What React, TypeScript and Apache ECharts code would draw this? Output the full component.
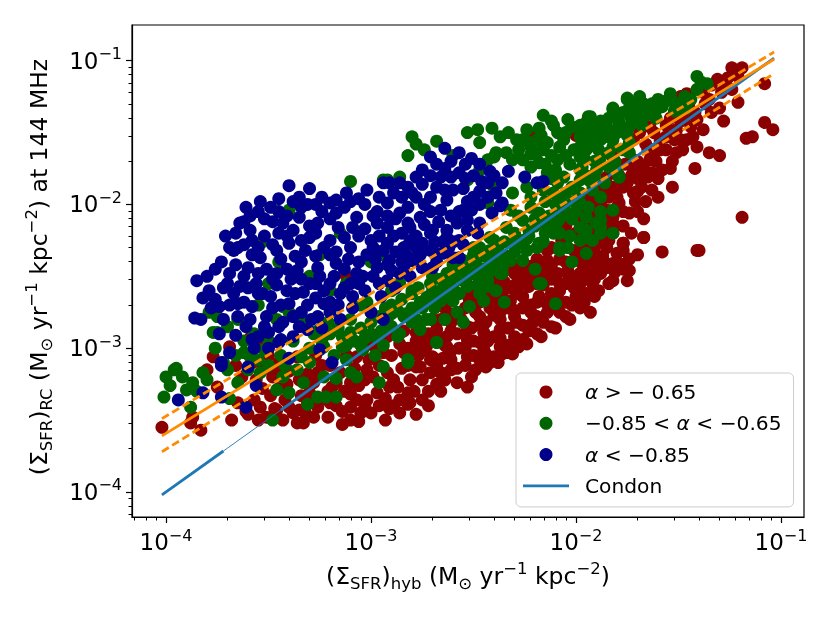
import React, { useEffect, useRef } from "react";
import * as echarts from "echarts";

// log10 values of [ (Σ_SFR)_hyb , (Σ_SFR)_RC ]
const redLog: [number, number][] = [
  [-4.02,-3.55],[-3.87,-3.48],[-3.83,-3.57],[-3.88,-3.52],[-3.77,-3.06],[-3.80,-3.15],[-3.75,-3.27],[-3.69,-2.99],
  [-3.68,-3.50],[-3.60,-3.46],[-3.54,-3.41],[-3.51,-3.48],[-3.46,-3.43],[-3.58,-2.92],[-3.53,-2.96],[-3.46,-3.13],
  [-3.40,-3.41],[-3.36,-3.52],[-3.33,-3.52],[-3.35,-3.43],[-3.26,-3.41],[-3.20,-3.38],[-3.14,-3.53],[-3.06,-3.51],
  [-3.10,-3.41],[-3.02,-3.36],[-2.97,-3.31],[-2.91,-3.42],[-2.86,-3.36],[-2.82,-3.39],[-2.91,-3.27],[-2.81,-3.22],
  [-2.71,-3.17],[-2.66,-3.17],[-2.64,-3.22],[-2.78,-3.13],[-2.94,-3.03],[-3.02,-3.15],[-3.10,-3.24],[-3.19,-3.27],
  [-3.30,-3.31],[-3.35,-3.22],[-3.26,-3.17],[-3.07,-3.06],[-2.97,-2.94],[-2.84,-3.03],[-2.73,-2.99],[-2.68,-2.87],
  [-2.78,-2.89],[-2.63,-2.80],[-3.59,-2.93],
  [-2.81,-3.38],[-2.82,-3.31],[-2.53,-3.27],[-2.64,-3.22],[-2.66,-3.17],[-2.49,-3.15],[-2.42,-3.10],[-2.34,-3.03],
  [-2.28,-2.99],[-2.37,-2.99],[-2.45,-3.01],[-2.53,-3.06],[-2.61,-3.08],[-2.76,-3.13],[-2.80,-3.01],[-2.73,-2.94],
  [-2.63,-2.92],[-2.53,-2.94],[-2.45,-2.89],[-2.37,-2.87],[-2.29,-2.82],[-2.21,-2.82],[-2.22,-2.75],[-2.14,-2.75],
  [-2.08,-2.75],[-2.31,-2.73],[-2.37,-2.75],[-2.53,-2.85],[-2.61,-2.82],[-2.47,-2.78],[-2.52,-2.67],[-2.43,-2.64],
  [-2.32,-2.67],[-2.26,-2.64],[-2.18,-2.64],[-2.09,-2.62],[-2.00,-2.64],[-1.93,-2.75],[-2.08,-2.55],[-1.98,-2.55],
  [-1.92,-2.55],[-2.29,-2.55],[-2.21,-2.50],[-2.14,-2.48],[-2.04,-2.46],[-1.95,-2.46],[-1.85,-2.44],[-1.79,-2.41],
  [-1.75,-2.53],[-1.82,-2.53],[-1.74,-2.46],[-2.14,-2.39],[-2.01,-2.39],[-1.92,-2.39],[-2.37,-2.44],[-1.77,-2.27],
  [-1.85,-2.30],[-1.82,-2.20],[-1.85,-2.09],[-1.80,-2.02],[-1.71,-1.98],[-1.67,-2.23],[-1.58,-2.33],[-1.41,-2.32],
  [-1.93,-1.96],[-2.63,-2.99],[-2.70,-3.06],
  [-1.19,-2.09],[-1.08,-1.43],[-1.04,-1.48],[-1.17,-1.54],[-1.14,-1.53],[-1.08,-1.16],[-1.19,-1.05],[-1.21,-1.11],
  [-1.26,-1.12],[-1.31,-1.13],[-1.34,-1.17],[-1.21,-1.29],[-1.30,-1.33],[-1.34,-1.36],[-1.41,-1.41],[-1.46,-1.23],
  [-1.44,-1.46],[-1.41,-1.60],[-1.35,-1.64],[-1.30,-1.66],[-1.48,-1.62],[-1.51,-1.64],[-1.42,-1.75],[-1.53,-1.88],
  [-1.54,-1.75],[-1.58,-1.76],[-1.60,-1.82],[-1.65,-1.81],[-1.59,-1.62],[-1.56,-1.53],[-1.51,-1.48],[-1.43,-1.53],
  [-1.62,-1.50],[-1.65,-1.62],[-1.64,-1.69],[-1.72,-1.69],[-1.72,-1.76],[-1.75,-1.85],[-1.70,-1.91],[-1.71,-1.98],
  [-1.79,-1.99],[-1.82,-2.09],[-1.85,-2.04],[-1.83,-2.18],[-1.77,-2.27],[-1.67,-2.23],[-1.40,-2.32],[-1.85,-1.88],
  [-1.88,-1.95],[-1.92,-1.98],[-1.95,-1.97],[-1.49,-1.25],[-1.64,-1.46],[-1.69,-1.50],[-1.75,-1.62],[-1.82,-1.67],
  [-1.85,-1.81],[-1.80,-1.88],[-1.92,-2.32],[-1.82,-2.41],[-1.90,-2.41],
  [-2.22,-1.52],[-2.00,-1.52],[-1.95,-1.50],[-1.72,-1.55],[-1.82,-1.88],[-1.72,-1.92],[-1.88,-1.99],[-1.83,-2.09],
  [-1.88,-2.20],[-1.97,-2.41],[-2.04,-2.48],[-2.18,-2.48],[-2.26,-2.50],[-2.31,-2.57],[-2.39,-2.50],[-2.43,-2.62],
  [-2.52,-2.57],[-1.92,-2.09],[-3.12,-2.50],
];

const redLogDense: [number, number][] = [
  [-3.65,-3.38],[-3.63,-3.20],[-3.66,-3.12],[-3.57,-3.36],[-3.56,-3.22],[-3.58,-3.10],[-3.55,-3.50],[-3.49,-3.33],
  [-3.48,-3.20],[-3.50,-3.05],[-3.47,-3.42],[-3.42,-3.36],[-3.41,-3.25],[-3.43,-3.50],[-3.40,-3.16],[-3.34,-3.33],
  [-3.36,-3.06],[-3.32,-3.45],[-3.28,-3.48],[-3.28,-3.24],[-3.27,-3.05],[-3.21,-3.48],[-3.21,-3.30],[-3.20,-3.12],
  [-3.14,-3.44],[-3.13,-3.30],[-3.15,-3.17],[-3.12,-3.05],[-3.07,-3.36],[-3.06,-3.26],[-3.08,-3.14],[-3.05,-3.45],
  [-3.00,-3.45],[-2.99,-3.20],[-3.01,-3.08],[-2.99,-2.98],[-2.93,-3.50],[-2.93,-3.35],[-2.92,-3.17],[-2.90,-3.05],
  [-2.92,-2.92],[-2.86,-3.45],[-2.87,-3.27],[-2.85,-3.14],[-2.86,-2.97],[-2.84,-2.88],[-2.78,-3.46],[-2.79,-3.30],
  [-2.77,-3.05],[-2.78,-2.95],[-2.72,-3.40],[-2.72,-3.30],[-2.71,-3.08],[-2.72,-2.90],[-2.70,-2.80],[-2.66,-3.30],
  [-2.65,-3.07],[-2.64,-2.98],[-2.66,-2.80],[-2.64,-2.72],[-2.58,-3.24],[-2.58,-3.14],[-2.57,-3.00],[-2.58,-2.90],
  [-2.56,-2.80],[-2.58,-2.62],[-2.51,-3.20],[-2.50,-3.05],[-2.50,-2.95],[-2.51,-2.86],[-2.49,-2.75],[-2.50,-2.60],
  [-2.44,-3.13],[-2.44,-3.04],[-2.43,-2.95],[-2.44,-2.82],[-2.42,-2.72],[-2.45,-2.55],[-2.38,-3.10],[-2.36,-3.04],
  [-2.37,-2.93],[-2.37,-2.80],[-2.36,-2.64],[-2.35,-2.54],[-2.31,-3.04],[-2.30,-2.92],[-2.30,-2.78],[-2.29,-2.62],
  [-2.30,-2.48],[-2.28,-2.42],[-2.24,-2.97],[-2.23,-2.88],[-2.22,-2.70],[-2.23,-2.57],[-2.22,-2.43],[-2.17,-2.92],
  [-2.16,-2.82],[-2.15,-2.68],[-2.16,-2.56],[-2.15,-2.42],[-2.14,-2.32],[-2.10,-2.86],[-2.09,-2.70],[-2.08,-2.60],
  [-2.09,-2.48],[-2.08,-2.38],[-2.07,-2.25],[-2.03,-2.80],[-2.02,-2.70],[-2.01,-2.58],[-2.02,-2.50],[-2.01,-2.32],
  [-2.00,-2.20],[-2.02,-2.10],[-1.96,-2.68],[-1.95,-2.62],[-1.94,-2.50],[-1.95,-2.28],[-1.94,-2.12],[-1.96,-2.02],
  [-1.89,-2.60],[-1.88,-2.48],[-1.87,-2.36],[-1.88,-2.26],[-1.87,-2.05],[-1.88,-1.88],[-1.81,-2.47],[-1.80,-2.34],
  [-1.81,-2.15],[-1.80,-1.95],[-1.79,-1.80],[-1.74,-2.38],[-1.73,-2.20],[-1.74,-2.06],[-1.73,-1.80],[-1.76,-1.72],
  [-1.67,-2.10],[-1.66,-1.98],[-1.68,-1.88],[-1.67,-1.75],[-1.66,-1.58],[-1.60,-1.95],[-1.61,-1.70],[-1.59,-1.55],
  [-1.53,-1.70],[-1.52,-1.55],[-1.54,-1.40],[-1.46,-1.55],[-1.46,-1.38],[-1.45,-1.30],[-1.38,-1.48],[-1.37,-1.30],
  [-1.38,-1.22],[-1.29,-1.22],[-1.28,-1.42],[-1.24,-1.20],[-1.24,-1.05],
];

const redLogGaps: [number, number][] = [
  [-2.89,-3.22],[-2.89,-3.40],[-2.82,-3.12],[-2.82,-3.00],[-2.75,-3.22],[-2.75,-3.36],[-2.75,-3.02],[-2.68,-3.12],
  [-2.68,-3.25],[-2.68,-2.92],[-2.61,-3.15],[-2.61,-3.02],[-2.61,-2.88],[-2.61,-2.76],[-2.54,-3.12],[-2.54,-2.99],
  [-2.54,-2.90],[-2.54,-2.72],[-2.54,-2.62],[-2.47,-3.08],[-2.47,-2.96],[-2.47,-2.84],[-2.47,-2.68],[-2.47,-2.52],
  [-2.40,-3.06],[-2.40,-2.92],[-2.40,-2.77],[-2.40,-2.68],[-2.40,-2.58],[-2.33,-2.98],[-2.33,-2.86],[-2.33,-2.72],
  [-2.33,-2.58],[-2.33,-2.45],[-2.26,-2.94],[-2.26,-2.84],[-2.26,-2.72],[-2.26,-2.55],[-2.26,-2.45],[-2.19,-2.90],
  [-2.19,-2.78],[-2.19,-2.68],[-2.19,-2.55],[-2.19,-2.38],[-2.12,-2.85],[-2.12,-2.72],[-2.12,-2.62],[-2.12,-2.52],
  [-2.12,-2.42],[-2.12,-2.30],[-2.05,-2.78],[-2.05,-2.68],[-2.05,-2.55],[-2.05,-2.40],[-2.05,-2.28],[-2.05,-2.15],
  [-1.98,-2.72],[-1.98,-2.60],[-1.98,-2.48],[-1.98,-2.33],[-1.98,-2.20],[-1.98,-2.08],[-1.91,-2.64],[-1.91,-2.52],
  [-1.91,-2.44],[-1.91,-2.30],[-1.91,-2.18],[-1.91,-2.02],[-1.84,-2.55],[-1.84,-2.42],[-1.84,-2.25],[-1.84,-2.12],
  [-1.84,-1.95],[-1.77,-2.45],[-1.77,-2.32],[-1.77,-2.15],[-1.77,-2.05],[-1.77,-1.88],[-1.70,-2.35],[-1.70,-2.05],
  [-1.70,-1.82],[-1.70,-1.70],[-1.63,-1.90],[-1.63,-1.78],[-1.63,-1.62],[-1.56,-1.62],[-1.56,-1.45],[-1.49,-1.55],
  [-1.49,-1.42],[-1.42,-1.36],[-1.35,-1.27],[-1.28,-1.15],
  [-3.61,-3.44],[-3.53,-3.28],[-3.45,-3.28],[-3.38,-3.45],[-3.31,-3.38],[-3.24,-3.35],[-3.17,-3.40],[-3.17,-3.24],
  [-3.10,-3.50],[-3.10,-3.32],[-3.03,-3.40],[-3.03,-3.22],[-2.96,-3.40],[-2.96,-3.12],[-3.24,-3.12],[-3.31,-3.18],
  [-3.45,-3.10],[-3.53,-3.15],
];

const greenLog: [number, number][] = [
  [-4.00,-3.20],[-3.96,-3.15],[-4.01,-3.34],[-3.98,-3.26],[-3.90,-3.29],[-3.87,-3.24],[-3.88,-3.41],[-3.82,-3.17],
  [-3.75,-2.89],[-3.76,-3.00],[-3.70,-3.15],[-3.65,-3.24],[-3.62,-3.03],[-3.59,-3.06],[-3.69,-3.35],[-3.54,-3.17],
  [-3.52,-3.01],[-3.48,-3.50],[-3.46,-3.29],[-3.43,-3.20],[-3.40,-3.31],[-3.36,-3.15],[-3.33,-3.24],[-3.31,-3.39],
  [-3.26,-3.34],[-3.22,-3.34],[-3.17,-3.34],[-3.23,-3.20],[-3.30,-3.10],[-3.17,-3.21],[-3.10,-3.17],[-3.07,-3.20],
  [-3.04,-3.01],[-3.10,-2.89],[-2.94,-3.13],[-2.96,-3.24],[-2.87,-2.92],[-2.82,-3.08],[-2.73,-2.80],[-2.68,-2.96],
  [-2.80,-2.82],[-3.14,-2.99],[-3.23,-2.99],[-3.35,-2.78],[-3.43,-2.71],[-3.46,-2.80],[-3.75,-2.78],[-3.79,-2.75],
  [-3.10,-1.84],[-2.94,-1.83],[-3.40,-2.04],[-3.53,-2.26],[-3.77,-2.89],[-3.95,-3.14],[-3.50,-2.55],[-3.30,-2.50],
  [-3.20,-2.60],[-3.05,-2.70],[-3.40,-2.75],[-3.12,-2.55],[-3.00,-2.40],[-3.25,-2.35],[-3.45,-2.40],[-3.55,-2.70],
  [-3.65,-2.80],[-3.00,-2.90],[-2.90,-2.60],[-2.95,-2.35],[-3.15,-2.20],
  [-2.80,-1.53],[-2.82,-1.66],[-2.92,-1.83],[-2.86,-1.81],[-2.53,-1.50],[-2.48,-1.48],[-2.41,-1.47],[-2.37,-1.53],
  [-2.47,-1.57],[-2.60,-1.66],[-2.40,-1.67],[-2.34,-1.64],[-2.31,-1.69],[-2.47,-1.76],[-2.53,-1.83],[-2.40,-1.88],
  [-2.31,-1.92],[-2.43,-1.99],[-2.32,-2.04],
  [-2.16,-1.38],[-2.18,-1.47],[-2.11,-1.45],[-2.04,-1.41],[-1.94,-1.39],[-1.82,-1.33],[-1.75,-1.26],[-1.70,-1.30],
  [-1.79,-1.43],[-1.85,-1.48],[-1.92,-1.50],[-1.98,-1.53],[-2.06,-1.55],[-2.14,-1.57],[-2.22,-1.60],[-2.39,-1.64],
  [-2.43,-1.69],[-2.26,-1.69],[-2.18,-1.71],[-2.09,-1.69],[-1.98,-1.67],[-1.90,-1.60],[-1.82,-1.55],[-1.74,-1.46],
  [-1.90,-1.76],[-1.98,-1.83],[-2.06,-1.81],[-2.14,-1.78],[-2.22,-1.95],[-2.11,-1.92],[-1.79,-1.81],[-2.18,-2.06],
  [-2.08,-2.04],[-1.98,-1.99],[-2.26,-2.11],[-2.34,-2.16],[-2.42,-2.23],[-2.47,-2.30],[-2.55,-2.39],[-2.63,-2.48],
  [-2.71,-2.55],[-2.80,-2.62],[-2.11,-2.20],[-2.04,-2.30],[-1.98,-2.16],[-1.92,-2.25],[-2.19,-2.30],[-2.26,-2.39],
  [-2.36,-2.48],[-2.43,-2.57],[-2.50,-2.48],[-2.47,-2.62],[-2.39,-2.60],[-2.18,-2.55],[-2.08,-2.32],[-1.95,-2.34],
  [-1.88,-2.11],[-1.82,-2.04],[-1.88,-1.95],[-1.82,-2.20],
  [-1.95,-2.18],[-1.88,-2.16],[-1.98,-2.25],[-2.08,-2.30],[-2.18,-2.27],[-2.24,-2.32],[-2.32,-2.39],[-2.37,-2.48],
  [-2.43,-2.53],[-2.45,-2.67],[-2.52,-2.71],[-2.58,-2.75],[-2.60,-2.67],[-2.53,-2.57],[-2.48,-2.50],[-2.66,-2.67],
  [-2.71,-2.80],[-2.76,-2.87],[-2.68,-2.96],[-2.82,-3.10],[-2.17,-2.55],[-2.10,-2.69],
  [-1.41,-1.11],[-1.36,-1.16],[-1.54,-1.23],[-1.60,-1.27],[-1.69,-1.25],[-1.75,-1.27],[-1.82,-1.34],[-1.93,-1.39],
  [-1.72,-1.36],[-1.64,-1.34],[-1.58,-1.32],[-1.49,-1.30],[-1.44,-1.27],[-1.85,-1.46],[-1.79,-1.43],[-1.95,-1.50],
  [-1.88,-1.55],[-1.80,-1.50],[-1.74,-1.57],[-1.95,-1.62],[-1.88,-1.67],[-1.97,-1.74],[-1.79,-1.81],[-1.92,-1.90],
  [-1.95,-2.09],[-1.90,-2.13],[-1.95,-2.23],[-1.88,-2.20],[-1.41,-1.20],
  [-3.00,-2.75],[-2.90,-2.70],[-2.80,-2.60],[-2.70,-2.50],[-2.60,-2.42],[-2.50,-2.35],[-2.40,-2.25],[-2.30,-2.20],
  [-2.20,-2.10],[-2.10,-2.00],[-2.00,-1.90],[-2.90,-2.85],[-2.75,-2.72],[-2.60,-2.58],[-2.45,-2.45],[-2.30,-2.33],
  [-2.15,-2.20],[-2.00,-2.05],
];

const greenLogDense: [number, number][] = [
  [-2.78,-1.58],[-2.74,-1.62],[-2.68,-1.56],[-2.29,-1.55],[-2.28,-1.62],[-2.28,-2.08],[-2.27,-2.27],[-2.24,-1.48],
  [-2.23,-1.57],[-2.22,-1.65],[-2.22,-1.74],[-2.24,-1.88],[-2.22,-2.02],[-2.23,-2.18],[-2.17,-1.52],[-2.16,-1.62],
  [-2.15,-1.72],[-2.16,-1.90],[-2.15,-1.98],[-2.15,-2.13],[-2.16,-2.26],[-2.09,-1.50],[-2.08,-1.60],[-2.10,-1.76],
  [-2.09,-1.85],[-2.08,-1.97],[-2.09,-2.12],[-2.08,-2.20],[-2.02,-1.46],[-2.01,-1.62],[-2.03,-1.72],[-2.02,-1.88],
  [-2.01,-1.98],[-2.02,-2.10],[-2.03,-2.22],[-1.95,-1.43],[-1.94,-1.56],[-1.96,-1.68],[-1.95,-1.80],[-1.93,-1.84],
  [-1.94,-2.02],[-1.88,-1.42],[-1.87,-1.50],[-1.89,-1.62],[-1.88,-1.72],[-1.86,-1.85],[-1.88,-2.05],[-1.81,-1.38],
  [-1.80,-1.48],[-1.82,-1.60],[-1.81,-1.70],[-1.80,-1.76],[-1.74,-1.33],[-1.73,-1.40],[-1.75,-1.52],[-1.74,-1.64],
  [-1.67,-1.30],[-1.66,-1.38],[-1.68,-1.45],[-1.60,-1.33],[-1.61,-1.40],[-1.53,-1.28],[-1.52,-1.35],[-1.47,-1.25],
  [-1.46,-1.33],
  [-3.30,-3.00],[-3.28,-2.90],[-3.32,-2.82],[-3.20,-2.90],[-3.18,-3.05],[-3.21,-2.82],[-3.10,-2.80],[-3.08,-2.95],
  [-3.12,-3.08],[-3.00,-2.82],[-2.98,-3.05],[-3.02,-2.68],[-2.93,-2.72],[-2.92,-2.82],[-2.94,-2.98],[-2.85,-2.66],
  [-2.84,-2.78],[-2.86,-2.90],[-2.77,-2.58],[-2.76,-2.68],[-2.78,-2.80],[-2.70,-2.60],[-2.69,-2.72],[-2.63,-2.55],
  [-2.62,-2.64],[-2.64,-2.80],[-2.56,-2.45],[-2.55,-2.53],[-2.57,-2.62],[-2.49,-2.40],[-2.48,-2.56],[-2.50,-2.30],
  [-2.42,-2.32],[-2.41,-2.42],[-2.43,-2.48],[-2.35,-2.26],[-2.34,-2.36],[-2.36,-2.44],
  [-3.92,-3.20],[-3.85,-3.30],[-3.80,-3.22],[-3.72,-3.10],[-3.66,-3.05],[-3.60,-3.15],[-3.55,-3.08],[-3.50,-3.12],
  [-3.44,-3.05],[-3.38,-2.95],[-3.62,-2.95],[-3.70,-2.85],[-3.57,-2.90],[-3.50,-2.95],
];

const greenLogGaps: [number, number][] = [
  [-2.33,-1.50],[-2.26,-1.55],[-2.19,-1.55],[-2.19,-1.64],[-2.12,-1.42],[-2.12,-1.66],[-2.12,-1.82],[-2.05,-1.50],
  [-2.05,-1.66],[-2.05,-1.92],[-2.05,-2.05],[-1.98,-1.45],[-1.98,-1.60],[-1.98,-1.76],[-1.98,-1.92],[-1.91,-1.45],
  [-1.91,-1.55],[-1.91,-1.70],[-1.91,-1.80],[-1.84,-1.40],[-1.84,-1.53],[-1.84,-1.64],[-1.84,-1.74],[-1.77,-1.36],
  [-1.77,-1.48],[-1.77,-1.62],[-1.70,-1.35],[-1.70,-1.42],[-1.63,-1.30],[-1.56,-1.28],[-1.50,-1.34],[-1.39,-1.15],
  [-2.86,-2.55],[-2.80,-2.72],[-2.73,-2.65],[-2.66,-2.52],[-2.66,-2.60],[-2.59,-2.50],[-2.52,-2.44],[-2.45,-2.36],
  [-2.38,-2.30],[-2.31,-2.27],[-2.24,-2.24],[-2.20,-2.15],[-2.13,-2.08],[-2.06,-2.00],[-2.96,-2.78],[-3.05,-2.86],
  [-3.14,-2.92],[-3.24,-2.95],[-3.34,-3.06],[-3.42,-3.12],[-3.05,-2.98],[-2.98,-2.92],[-2.90,-2.76],[-3.16,-2.86],
  [-3.26,-2.88],[-2.55,-2.82],[-2.35,-2.68],[-2.20,-2.45],[-2.02,-2.40],
  [-3.03,-2.93],[-2.95,-2.88],[-2.83,-2.76],[-2.68,-2.63],[-2.53,-2.50],[-2.38,-2.38],[-2.23,-2.22],[-2.08,-2.10],
  [-3.12,-2.98],[-2.87,-2.74],[-2.72,-2.64],[-2.57,-2.48],[-2.42,-2.38],[-2.27,-2.25],[-2.12,-2.14],
];

const blueLog: [number, number][] = [
  [-3.85,-2.53],[-3.82,-2.65],[-3.86,-2.79],[-3.83,-2.80],[-3.70,-2.55],[-3.67,-2.32],[-3.65,-2.30],[-3.64,-2.13],
  [-3.61,-2.02],[-3.54,-1.98],[-3.49,-2.02],[-3.45,-1.96],[-3.40,-1.87],[-3.30,-1.89],[-3.35,-1.95],[-3.12,-1.92],
  [-3.02,-1.90],[-2.94,-1.85],[-3.59,-2.18],[-3.58,-2.25],[-3.43,-2.13],[-3.35,-2.09],[-3.26,-2.13],[-3.20,-1.99],
  [-3.17,-2.06],[-3.07,-2.09],[-2.97,-2.13],[-3.60,-2.44],[-3.54,-2.37],[-3.46,-2.32],[-3.40,-2.27],[-3.30,-2.23],
  [-3.20,-2.25],[-3.10,-2.30],[-3.00,-2.25],[-2.94,-2.32],[-3.64,-2.57],[-3.56,-2.55],[-3.46,-2.48],[-3.36,-2.46],
  [-3.26,-2.44],[-3.17,-2.41],[-3.07,-2.48],[-2.97,-2.44],[-3.74,-2.71],[-3.65,-2.69],[-3.58,-2.71],[-3.49,-2.64],
  [-3.40,-2.69],[-3.33,-2.61],[-3.23,-2.69],[-3.15,-2.62],[-3.09,-2.64],[-3.72,-2.80],[-3.61,-2.85],[-3.51,-2.78],
  [-3.43,-2.82],[-3.35,-2.85],[-3.26,-2.78],[-3.20,-2.75],[-3.66,-2.91],[-3.58,-2.94],[-3.50,-2.89],[-3.44,-2.94],
  [-3.38,-2.92],[-3.31,-2.87],[-3.69,-3.03],[-3.73,-3.10],[-3.19,-3.10],[-2.94,-2.80],[-2.96,-2.55],
  [-3.94,-3.36],[-3.82,-3.31],[-3.73,-3.12],[-3.73,-3.34],[-3.60,-3.13],[-3.56,-3.26],[-3.61,-3.41],[-3.45,-2.96],
  [-3.40,-3.07],[-3.25,-3.01],[-3.00,-2.75],
  [-2.71,-1.67],[-2.64,-1.61],[-2.57,-1.64],[-2.51,-1.68],[-2.75,-1.76],[-2.78,-1.81],[-2.42,-1.77],[-2.33,-1.77],
  [-2.25,-1.81],[-2.19,-1.85],[-2.16,-1.84],[-2.36,-1.99],[-2.36,-1.85],[-2.51,-2.04],[-2.47,-2.13],[-2.91,-1.85],
  [-2.86,-1.85],[-2.66,-1.81],[-2.61,-1.81],[-2.55,-1.89],[-2.47,-1.91],[-2.80,-1.92],[-2.71,-1.95],[-2.63,-1.97],
  [-2.92,-1.99],[-2.86,-2.06],[-2.76,-2.09],[-2.66,-2.04],[-2.58,-2.13],[-2.92,-2.16],[-2.81,-2.16],[-2.71,-2.20],
  [-2.63,-2.18],[-2.53,-2.18],[-2.92,-2.27],[-2.84,-2.30],[-2.75,-2.27],[-2.65,-2.26],[-2.57,-2.25],[-2.91,-2.39],
  [-2.80,-2.39],[-2.68,-2.34],[-2.60,-2.37],[-2.86,-2.48],[-2.75,-2.44],[-2.92,-2.53],
  [-2.82,-2.13],[-2.70,-2.18],[-2.63,-2.23],[-2.53,-2.11],[-2.37,-2.01],[-2.84,-2.44],[-2.78,-2.37],[-2.71,-2.32],
  [-2.65,-2.34],[-2.57,-2.37],[-2.70,-2.44],
];

const blueLogDense: [number, number][] = [
  [-3.79,-2.60],[-3.78,-2.72],[-3.80,-2.50],[-3.73,-2.40],[-3.72,-2.58],[-3.74,-2.90],[-3.71,-2.22],[-3.66,-2.20],
  [-3.66,-2.42],[-3.67,-2.62],[-3.65,-2.78],[-3.59,-2.08],[-3.58,-2.35],[-3.60,-2.58],[-3.59,-2.80],[-3.57,-3.00],
  [-3.52,-2.10],[-3.52,-2.22],[-3.51,-2.45],[-3.53,-2.62],[-3.52,-2.85],[-3.50,-3.00],[-3.45,-2.05],[-3.45,-2.20],
  [-3.44,-2.38],[-3.46,-2.56],[-3.44,-2.70],[-3.45,-2.85],[-3.38,-1.98],[-3.38,-2.18],[-3.37,-2.36],[-3.39,-2.52],
  [-3.37,-2.62],[-3.38,-2.78],[-3.31,-2.00],[-3.30,-2.15],[-3.32,-2.32],[-3.30,-2.55],[-3.31,-2.70],[-3.29,-2.80],
  [-3.24,-1.95],[-3.24,-2.05],[-3.23,-2.30],[-3.25,-2.50],[-3.23,-2.60],[-3.24,-2.86],[-3.17,-1.97],[-3.16,-2.16],
  [-3.17,-2.33],[-3.18,-2.50],[-3.16,-2.70],[-3.15,-2.80],[-3.10,-1.98],[-3.09,-2.16],[-3.11,-2.38],[-3.10,-2.55],
  [-3.09,-2.72],[-3.03,-2.00],[-3.03,-2.17],[-3.02,-2.35],[-3.04,-2.50],[-3.03,-2.60],[-2.96,-1.95],[-2.97,-2.05],
  [-2.96,-2.22],[-2.98,-2.38],[-2.95,-2.64],[-2.89,-1.92],[-2.88,-2.10],[-2.89,-2.22],[-2.88,-2.33],[-2.90,-2.46],
  [-2.88,-2.58],[-2.82,-1.88],[-2.82,-2.02],[-2.81,-2.25],[-2.83,-2.35],[-2.81,-2.50],[-2.75,-1.86],[-2.74,-2.00],
  [-2.74,-2.14],[-2.76,-2.35],[-2.68,-1.72],[-2.68,-1.88],[-2.67,-2.12],[-2.69,-2.26],[-2.68,-2.40],[-2.61,-1.70],
  [-2.60,-1.90],[-2.61,-2.08],[-2.60,-2.26],[-2.62,-2.30],[-2.54,-1.72],[-2.54,-1.82],[-2.53,-1.98],[-2.55,-2.04],
  [-2.55,-2.28],[-2.47,-1.72],[-2.46,-1.84],[-2.47,-2.00],[-2.48,-2.20],[-2.40,-1.80],[-2.39,-1.92],[-2.41,-2.06],
];

const blueLogGaps: [number, number][] = [
  [-3.76,-2.45],[-3.76,-2.66],[-3.69,-2.30],[-3.69,-2.48],[-3.69,-2.70],[-3.62,-2.12],[-3.62,-2.28],[-3.62,-2.50],
  [-3.62,-2.68],[-3.55,-2.05],[-3.55,-2.30],[-3.55,-2.48],[-3.55,-2.62],[-3.55,-2.92],[-3.48,-2.12],[-3.48,-2.28],
  [-3.48,-2.52],[-3.48,-2.72],[-3.41,-2.08],[-3.41,-2.22],[-3.41,-2.45],[-3.41,-2.60],[-3.34,-2.02],[-3.34,-2.25],
  [-3.34,-2.40],[-3.34,-2.52],[-3.34,-2.75],[-3.27,-2.00],[-3.27,-2.20],[-3.27,-2.36],[-3.27,-2.55],[-3.27,-2.65],
  [-3.20,-2.10],[-3.20,-2.35],[-3.20,-2.55],[-3.20,-2.68],[-3.13,-2.02],[-3.13,-2.23],[-3.13,-2.45],[-3.13,-2.58],
  [-3.06,-1.96],[-3.06,-2.22],[-3.06,-2.40],[-3.06,-2.55],[-2.99,-2.08],[-2.99,-2.30],[-2.99,-2.50],[-2.92,-2.08],
  [-2.92,-2.42],[-2.85,-1.95],[-2.85,-2.20],[-2.85,-2.40],[-2.78,-1.95],[-2.78,-2.22],[-2.78,-2.30],[-2.71,-1.80],
  [-2.71,-2.05],[-2.64,-1.75],[-2.64,-1.90],[-2.57,-1.78],[-2.57,-2.05],[-2.50,-1.80],[-2.50,-1.95],[-2.43,-1.85],
  [-2.43,-1.95],
];

// Condon relation and the fitted relation with its spread (log10 end points)
const condonStart: [number, number][] = [[-4.02, -4.02], [-3.72, -3.715]];
const condonThin: [number, number][] = [[-3.72, -3.715], [-3.44, -3.43]];
const condonEnd: [number, number][] = [[-3.44, -3.43], [-1.034, -0.982]];
const fitLine: [number, number][] = [[-4.02, -3.61], [-1.034, -0.99]];
const fitUpper: [number, number][] = [[-4.02, -3.49], [-1.034, -0.94]];
const fitLower: [number, number][] = [[-4.02, -3.72], [-1.034, -1.09]];

const majorTicks = [1e-4, 1e-3, 1e-2, 1e-1];
const seriesNames = ["α > − 0.65", "−0.85 < α < −0.65", "α < −0.85", "Condon"];
const colors = ["#8b0000", "#006400", "#00008b", "#1f77b4", "#ff8c00"];

const toVal = (pts: [number, number][]) => pts.map(([x, y]) => [Math.pow(10, x), Math.pow(10, y)]);

const minorTicks: number[] = [];
for (let e = -5; e <= -1; e++) for (let k = 2; k <= 9; k++) minorTicks.push(parseFloat((k * Math.pow(10, e)).toPrecision(3)));

const FONT = "DejaVu Sans";
const X_MIN = Math.pow(10, -4.166);
const X_MAX = Math.pow(10, -0.888);
const Y_MIN = Math.pow(10, -4.174);
const Y_MAX = Math.pow(10, -0.752);

const tickRich = {
  b: { fontSize: 23, fontFamily: FONT, color: "#000", lineHeight: 30 },
  s: { fontSize: 16, fontFamily: FONT, color: "#000", lineHeight: 14, verticalAlign: "top" },
};
const nameRich = {
  b: { fontSize: 23.5, fontFamily: FONT, color: "#000", lineHeight: 32 },
  sub: { fontSize: 16.5, fontFamily: FONT, color: "#000", lineHeight: 18, verticalAlign: "bottom" },
  sup: { fontSize: 16.5, fontFamily: FONT, color: "#000", lineHeight: 16, verticalAlign: "top" },
};
const tickFmt = (v: number) => {
  const e = Math.round(Math.log10(v));
  return `{b|10}{s|−${Math.abs(e)}}`;
};

const majorAxis = (lim: [number, number], extra: any) => ({
  type: "log",
  logBase: 10,
  min: lim[0],
  max: lim[1],
  axisLine: { show: true, lineStyle: { color: "#000", width: 1.2 } },
  axisTick: { show: true, customValues: majorTicks, length: 6, lineStyle: { color: "#000", width: 1.2 } },
  axisLabel: { show: true, customValues: majorTicks, formatter: tickFmt, rich: tickRich, margin: 10 },
  splitLine: { show: false },
  minorTick: { show: false },
  ...extra,
});
const minorAxis = (lim: [number, number], position: string) => ({
  type: "log",
  logBase: 10,
  min: lim[0],
  max: lim[1],
  position,
  axisLine: { show: false },
  axisTick: { show: true, customValues: minorTicks, length: 3.5, lineStyle: { color: "#000", width: 1 } },
  axisLabel: { show: false },
  splitLine: { show: false },
});

export default function App() {
  const ref = useRef<HTMLDivElement>(null);
  useEffect(() => {
    if (!ref.current) return;
    const chart = echarts.init(ref.current, undefined, { renderer: "svg" });
    const lineSeries = (name: string | undefined, data: [number, number][], color: string, width: number, type: any) => ({
      type: "line",
      name,
      data: toVal(data),
      symbol: "none",
      showSymbol: false,
      silent: true,
      z: 5,
      lineStyle: { color, width, type },
      itemStyle: { color },
    });
    const scatter = (name: string, data: number[][], color: string) => ({
      type: "scatter",
      name,
      data,
      symbolSize: 13,
      itemStyle: { color, opacity: 1 },
      silent: true,
      z: 2,
    });
    chart.setOption({
      animation: false,
      grid: { left: 132, top: 25, right: 26, bottom: 106, show: true, borderColor: "#000", borderWidth: 1.2, backgroundColor: "transparent" },
      xAxis: [
        majorAxis([X_MIN, X_MAX], {
          position: "bottom",
          name: "(Σ{sub|SFR}){sub|hyb} (M{sub|⊙} yr{sup|−1} kpc{sup|−2})",
          nameLocation: "middle",
          nameGap: 43,
          nameTextStyle: { fontSize: 23.5, fontFamily: FONT, color: "#000", lineHeight: 32, rich: nameRich },
        }),
        minorAxis([X_MIN, X_MAX], "bottom"),
      ],
      yAxis: [
        majorAxis([Y_MIN, Y_MAX], {
          position: "left",
          name: "(Σ{sub|SFR}){sub|RC} (M{sub|⊙} yr{sup|−1} kpc{sup|−2}) at 144 MHz",
          nameLocation: "middle",
          nameRotate: 90,
          nameGap: 77,
          nameTextStyle: { fontSize: 23.5, fontFamily: FONT, color: "#000", lineHeight: 32, rich: nameRich, padding: [0, 0, 0, 8] },
        }),
        minorAxis([Y_MIN, Y_MAX], "left"),
      ],
      legend: {
        left: 516,
        top: 373,
        orient: "vertical",
        padding: [9, 12, 11, 7],
        itemGap: 11.3,
        itemWidth: 46,
        itemHeight: 13,
        backgroundColor: "rgba(255,255,255,0.8)",
        borderColor: "#cccccc",
        borderWidth: 1,
        borderRadius: 5,
        selectedMode: false,
        data: [
          { name: seriesNames[0], icon: "circle" },
          { name: seriesNames[1], icon: "circle" },
          { name: seriesNames[2], icon: "circle" },
          { name: seriesNames[3], icon: "path://M0,0L46,0L46,2.6L0,2.6Z" },
        ],
        formatter: (n: string) => n.replace("α", "{i|α}"),
        textStyle: {
          fontSize: 20.2,
          fontFamily: FONT,
          color: "#000",
          lineHeight: 20,
          padding: [0, 0, 0, 11],
          rich: { i: { fontSize: 20.2, fontFamily: FONT, fontStyle: "italic", color: "#000" } },
        },
      },
      series: [
        scatter(seriesNames[0], toVal(redLog.concat(redLogDense, redLogGaps)), colors[0]),
        scatter(seriesNames[1], toVal(greenLog.concat(greenLogDense, greenLogGaps)), colors[1]),
        scatter(seriesNames[2], toVal(blueLog.concat(blueLogDense, blueLogGaps)), colors[2]),
        lineSeries(seriesNames[3], condonStart, colors[3], 2.8, "solid"),
        lineSeries(seriesNames[3], condonThin, colors[3], 0.9, "solid"),
        lineSeries(seriesNames[3], condonEnd, colors[3], 2.8, "solid"),
        lineSeries("fit", fitLine, colors[4], 2.8, "solid"),
        lineSeries("fit upper", fitUpper, colors[4], 2.8, [8, 4]),
        lineSeries("fit lower", fitLower, colors[4], 2.8, [8, 4]),
      ],
    });
    return () => chart.dispose();
  }, []);
  return <div ref={ref} style={{ position: "fixed", left: 0, top: 0, width: 830, height: 623 }} />;
}
